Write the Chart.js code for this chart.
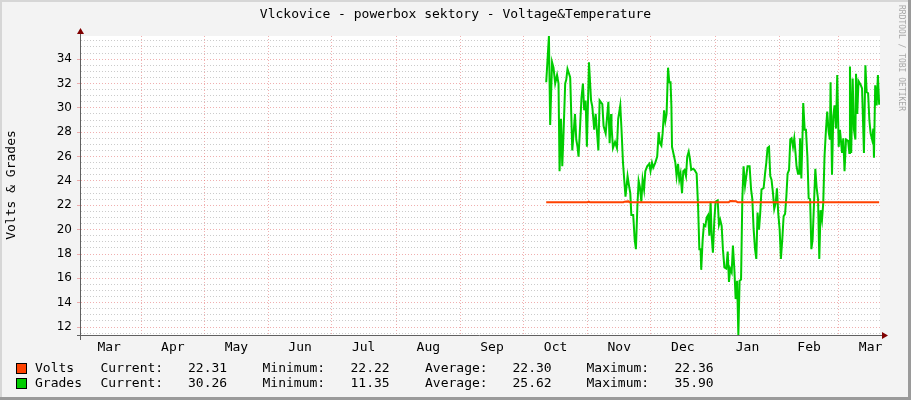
<!DOCTYPE html>
<html>
<head>
<meta charset="utf-8">
<title>Vlckovice - powerbox sektory - Voltage&amp;Temperature</title>
<script src="https://cdn.jsdelivr.net/npm/chart.js@4.4.0/dist/chart.umd.min.js"></script>
<style>
  html, body { margin: 0; padding: 0; background: #f3f3f3; }
  canvas { display: block; }
</style>
</head>
<body>
<canvas id="rrdChart" width="911" height="400"></canvas>
<script>
// x axis is "days since 1 March" (one year + ~3 weeks shown)
const monthNames   = ['Mar', 'Apr', 'May', 'Jun', 'Jul', 'Aug', 'Sep', 'Oct', 'Nov', 'Dec', 'Jan', 'Feb', 'Mar'];
const monthMiddles = [15.5, 46, 76.5, 107, 137.5, 168.5, 199, 229.5, 260, 290.5, 321.5, 351, 380.5];
const monthStarts  = [31, 61, 92, 122, 153, 184, 214, 245, 275, 306, 337, 365];
const yTickLabels  = [12, 14, 16, 18, 20, 22, 24, 26, 28, 30, 32, 34];

// Volts readings [day, value]
const voltsReadings = [
    [225.0, 22.25], [244.8, 22.25], [245.3, 22.3], [245.9, 22.25], [262.0, 22.25],
    [262.6, 22.3], [264.4, 22.32], [265.0, 22.25], [312.5, 22.25], [313.2, 22.36],
    [316.0, 22.33], [316.8, 22.25], [384.6, 22.25]
];

// Grades readings [day, value]
const gradesReadings = [
    [225.0, 32.1], [226.3, 35.9], [226.9, 28.6], [227.8, 33.75], [228.5, 33.3], [229.3, 32.0],
    [230.2, 32.7], [230.9, 32.0], [231.4, 24.8], [232.1, 29.1], [232.7, 25.2], [233.3, 27.9],
    [234.1, 32.0], [234.6, 32.3], [235.2, 33.2], [236.5, 32.5], [237.5, 26.5], [238.8, 29.5],
    [239.4, 27.4], [240.0, 26.8], [240.5, 26.0], [241.3, 28.7], [241.9, 30.8], [242.6, 32.0],
    [243.2, 29.8], [243.9, 30.6], [244.5, 26.8], [245.5, 33.75], [246.5, 30.6], [247.1, 30.1],
    [248.0, 28.2], [248.7, 29.5], [250.0, 26.5], [250.6, 30.6], [251.9, 30.3], [252.5, 28.5],
    [253.5, 27.9], [254.8, 30.5], [255.4, 27.1], [256.1, 29.5], [256.3, 28.5], [257.0, 26.7],
    [258.0, 27.2], [258.9, 26.7], [259.5, 29.1], [260.5, 30.2], [261.1, 28.2], [261.8, 25.5],
    [262.4, 24.1], [263.0, 22.7], [264.0, 24.4], [264.7, 23.6], [265.3, 23.0], [265.8, 21.2],
    [266.7, 21.2], [267.4, 19.2], [268.0, 18.4], [268.7, 21.9], [269.3, 24.0], [269.9, 23.5],
    [270.6, 22.3], [271.2, 24.1], [271.9, 23.3], [272.5, 24.8], [273.4, 25.2], [274.4, 25.4],
    [275.0, 24.8], [275.7, 25.5], [276.3, 25.1], [277.3, 25.5], [278.2, 26.0], [278.9, 28.0],
    [279.5, 27.1], [280.2, 26.9], [280.8, 27.9], [281.5, 29.8], [282.1, 28.9], [282.7, 29.5],
    [283.4, 33.3], [284.0, 32.1], [284.6, 32.1], [285.0, 30.2], [285.3, 26.8], [286.3, 26.0],
    [286.9, 25.5], [287.5, 24.4], [288.2, 25.4], [288.8, 24.1], [289.4, 24.6], [290.1, 23.0],
    [290.7, 24.8], [291.3, 24.9], [292.0, 24.4], [292.6, 26.0], [293.3, 26.4], [293.9, 25.8],
    [294.5, 24.9], [295.5, 25.0], [296.1, 24.9], [297.1, 24.6], [297.8, 21.9], [298.4, 18.4],
    [299.0, 18.4], [299.3, 16.7], [300.0, 19.2], [300.6, 20.4], [301.3, 20.3], [301.9, 21.0],
    [302.6, 21.2], [303.2, 19.5], [303.8, 22.3], [304.3, 19.5], [304.9, 18.1], [305.6, 20.8],
    [306.2, 22.3], [307.2, 22.4], [307.8, 20.4], [308.4, 20.8], [309.1, 20.3], [309.7, 18.4],
    [310.4, 16.9], [311.3, 16.8], [312.0, 18.2], [312.6, 15.7], [313.2, 16.8], [313.9, 16.5],
    [314.5, 18.7], [315.2, 16.7], [315.8, 14.3], [316.5, 15.8], [317.1, 11.35], [317.7, 15.8],
    [318.4, 15.9], [319.0, 22.5], [319.6, 25.2], [320.3, 23.6], [320.9, 24.4], [321.5, 25.2],
    [322.5, 25.2], [323.2, 23.3], [323.8, 22.5], [324.4, 20.1], [325.1, 18.4], [325.7, 17.6],
    [326.3, 21.4], [327.0, 20.0], [327.6, 21.4], [328.2, 23.3], [329.2, 23.4], [329.9, 24.6],
    [330.5, 25.5], [331.1, 26.7], [331.8, 26.8], [332.4, 24.4], [333.0, 24.1], [333.7, 23.0],
    [334.3, 21.7], [335.0, 22.2], [335.6, 23.4], [336.2, 21.4], [336.9, 20.0], [337.5, 17.6],
    [338.2, 19.3], [338.8, 21.1], [339.5, 21.3], [340.1, 22.7], [340.7, 24.6], [341.4, 24.9],
    [342.0, 27.4], [342.6, 27.5], [343.3, 26.8], [343.9, 27.5], [344.5, 26.3], [345.0, 25.2],
    [345.7, 24.6], [346.3, 24.6], [346.7, 27.5], [347.3, 24.2], [347.9, 28.0], [348.2, 30.4],
    [348.9, 28.2], [349.5, 28.2], [350.2, 26.0], [350.8, 22.6], [351.5, 22.5], [352.1, 18.4],
    [352.7, 19.2], [353.4, 22.3], [354.0, 25.0], [354.6, 23.5], [355.3, 22.5], [355.9, 17.6],
    [356.5, 21.6], [357.2, 20.8], [357.8, 22.2], [358.4, 26.0], [359.1, 28.2], [359.7, 29.7],
    [360.4, 28.0], [361.0, 27.4], [361.3, 32.1], [362.0, 24.5], [362.6, 29.3], [363.2, 30.2],
    [363.9, 28.3], [364.5, 32.7], [365.2, 26.8], [365.8, 28.2], [366.8, 26.3], [367.4, 27.5],
    [368.0, 24.8], [368.7, 27.4], [369.7, 27.3], [370.3, 26.3], [370.6, 33.4], [371.2, 26.3],
    [371.9, 32.4], [372.5, 28.2], [373.2, 27.4], [373.5, 32.8], [374.1, 29.5], [374.7, 32.2],
    [375.7, 31.9], [376.4, 31.6], [377.3, 26.3], [378.0, 33.5], [378.6, 31.3], [379.3, 31.2],
    [379.9, 29.0], [380.5, 27.9], [381.2, 27.4], [381.8, 28.3], [382.1, 25.9], [382.7, 31.85],
    [383.4, 30.2], [384.0, 32.7], [384.6, 30.26]
];

// Legend statistics
const legendNames = ['Volts', 'Grades'];
const legendCurrent = ['22.31', '30.26'];
const legendMinimum = ['22.22', '11.35'];
const legendAverage = ['22.30', '25.62'];
const legendMaximum = ['22.36', '35.90'];

const voltsColor = '#ff4200';
const gradesColor = '#00cc00';
const majorGrid = 'rgba(228, 110, 110, 0.55)';
const minorGrid = 'rgba(160, 160, 160, 0.55)';
const mono = "'DejaVu Sans Mono', monospace";

// Background, frame, axes, arrows and texts drawn around the plot
const rrdDecor = {
    id: 'rrdDecor',
    beforeDraw(chart) {
        const { ctx, chartArea: a, width, height } = chart;
        ctx.save();
        ctx.fillStyle = '#f3f3f3';
        ctx.fillRect(0, 0, width, height);
        ctx.fillStyle = '#ffffff';
        ctx.fillRect(a.left, a.top, a.right - a.left, a.bottom - a.top);
        ctx.fillStyle = '#d6d6d6';
        ctx.fillRect(0, 0, width, 2);
        ctx.fillRect(0, 0, 2, height);
        ctx.fillStyle = '#9a9a9a';
        ctx.fillRect(0, height - 3, width, 3);
        ctx.fillRect(width - 3, 0, 3, height);
        ctx.restore();
    },
    afterDraw(chart) {
        const { ctx, chartArea: a } = chart;
        ctx.save();

        // axis lines
        ctx.strokeStyle = '#606060';
        ctx.lineWidth = 1;
        ctx.beginPath();
        ctx.moveTo(a.left - 0.5, a.top - 4);
        ctx.lineTo(a.left - 0.5, a.bottom + 5);
        ctx.moveTo(a.left - 4, a.bottom + 0.5);
        ctx.lineTo(a.right + 2, a.bottom + 0.5);
        ctx.stroke();

        // arrows
        ctx.fillStyle = '#800000';
        ctx.beginPath();
        ctx.moveTo(a.left - 4, a.top - 2);
        ctx.lineTo(a.left + 3, a.top - 2);
        ctx.lineTo(a.left - 0.5, a.top - 8);
        ctx.closePath();
        ctx.fill();
        ctx.beginPath();
        ctx.moveTo(a.right + 2, a.bottom - 3);
        ctx.lineTo(a.right + 2, a.bottom + 4);
        ctx.lineTo(a.right + 8, a.bottom + 0.5);
        ctx.closePath();
        ctx.fill();

        // title
        ctx.fillStyle = '#000';
        ctx.font = '13px ' + mono;
        ctx.textAlign = 'center';
        ctx.textBaseline = 'middle';
        ctx.fillText('Vlckovice - powerbox sektory - Voltage&Temperature', 455.5, 15);

        // vertical axis label
        ctx.save();
        ctx.translate(12, 185);
        ctx.rotate(-Math.PI / 2);
        ctx.fillText('Volts & Grades', 0, 0);
        ctx.restore();

        // watermark
        ctx.save();
        ctx.translate(901, 5);
        ctx.rotate(Math.PI / 2);
        ctx.fillStyle = '#a8a8a8';
        ctx.font = '8px ' + mono;
        ctx.textAlign = 'left';
        ctx.fillText('RRDTOOL / TOBI OETIKER', 0, 0);
        ctx.restore();

        // legend
        const rows = [369, 384];
        const colors = [voltsColor, gradesColor];
        ctx.font = '13px ' + mono;
        ctx.textAlign = 'left';
        rows.forEach((y, i) => {
            ctx.fillStyle = colors[i];
            ctx.fillRect(17, y - 5, 9, 9);
            ctx.strokeStyle = '#000';
            ctx.lineWidth = 1;
            ctx.strokeRect(16.5, y - 5.5, 10, 10);
            ctx.fillStyle = '#000';
            ctx.fillText(legendNames[i], 35, y);
            ctx.fillText('Current:', 100.5, y);
            ctx.fillText(legendCurrent[i], 188, y);
            ctx.fillText('Minimum:', 262.5, y);
            ctx.fillText(legendMinimum[i], 350.5, y);
            ctx.fillText('Average:', 425, y);
            ctx.fillText(legendAverage[i], 512.5, y);
            ctx.fillText('Maximum:', 586.5, y);
            ctx.fillText(legendMaximum[i], 674.5, y);
        });
        ctx.restore();
    }
};

const isMajor = v => yTickLabels.includes(v);

new Chart(document.getElementById('rrdChart'), {
    type: 'line',
    data: {
        datasets: [
            {
                label: 'Volts',
                data: voltsReadings.map(([d, v]) => ({ x: d, y: v })),
                borderColor: voltsColor,
                borderWidth: 2,
                pointRadius: 0,
                tension: 0,
                xAxisID: 'x',
                yAxisID: 'y'
            },
            {
                label: 'Grades',
                data: gradesReadings.map(([d, v]) => ({ x: d, y: v })),
                borderColor: gradesColor,
                borderWidth: 2,
                pointRadius: 0,
                tension: 0,
                xAxisID: 'x',
                yAxisID: 'y'
            }
        ]
    },
    options: {
        responsive: false,
        animation: false,
        events: [],
        layout: { padding: { left: 0, top: 36, right: 31, bottom: 35 } },
        plugins: {
            legend: { display: false },
            tooltip: { enabled: false }
        },
        scales: {
            x: {
                type: 'linear',
                position: 'bottom',
                min: 2,
                max: 385,
                afterBuildTicks: s => { s.ticks = monthStarts.map(v => ({ value: v })); },
                afterFit: s => { s.height = 0; },
                ticks: { display: false },
                grid: { color: majorGrid, drawTicks: false },
                border: { display: false, dash: [1, 2] }
            },
            xl: {
                type: 'linear',
                position: 'bottom',
                min: 2,
                max: 385,
                afterBuildTicks: s => { s.ticks = monthMiddles.map(v => ({ value: v })); },
                afterFit: s => { s.height = 30; },
                ticks: {
                    autoSkip: false,
                    maxRotation: 0,
                    padding: 5,
                    color: '#000',
                    font: { family: mono, size: 13 },
                    callback: (v, i) => monthNames[i]
                },
                grid: { display: false, drawTicks: false, tickLength: 0 },
                border: { display: false }
            },
            y: {
                type: 'linear',
                min: 11.35,
                max: 35.9,
                afterBuildTicks: s => {
                    const t = [];
                    for (let v = 11.5; v <= 35.5; v += 0.5) t.push({ value: v });
                    s.ticks = t;
                },
                afterFit: s => { s.width = 81; },
                ticks: {
                    autoSkip: false,
                    padding: 5,
                    color: '#000',
                    font: { family: "'DejaVu Sans', sans-serif", size: 12 },
                    callback: v => (isMajor(v) ? String(v) : '')
                },
                grid: {
                    color: c => (isMajor(c.tick.value) ? majorGrid : minorGrid),
                    tickColor: c => (isMajor(c.tick.value) ? majorGrid : 'rgba(0,0,0,0)'),
                    tickLength: 4
                },
                border: { display: false, dash: [1, 2] }
            }
        }
    },
    plugins: [rrdDecor]
});
</script>
</body>
</html>
